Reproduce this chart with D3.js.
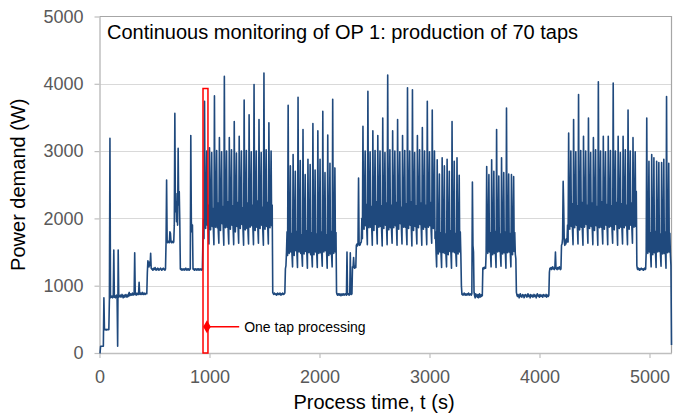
<!DOCTYPE html>
<html><head><meta charset="utf-8">
<script src="https://cdn.jsdelivr.net/npm/d3@7/dist/d3.min.js"></script>
<style>
body{margin:0;background:#fff}
svg{display:block}
text{font-family:"Liberation Sans",Arial,Helvetica,sans-serif}
</style>
</head><body>
<svg id="chart" width="675" height="416"></svg>
<script>
// ---- data: power demand sampled every 5 s, one array per phase ----
const sampleStepS = 5;
const phaseStartS = [0, 940, 1575, 1700, 2155, 2380, 3290, 3515, 3790, 4255, 4885, 4975, 5200];

const startUp = [0,0,100,100,100,100,100,100,
820,350,345,350,340,350,345,350,345,350,
800,3190,820,850,830,845,820,840,1530,830,850,820,840,860,830,100,1530,830,850,
840,860,830,850,870,840,820,850,860,830,845,870,850,830,860,840,880,900,850,870,880,860,870,890,860,880,870,
1490,870,
880,860,890,870,880,870,
1050,880,
870,890,880,870,900,880,870,890,880,870,880,890,880,
1200,1370,1320,1280,1350,1300,1480,1260,
1250,1240,1230,1260,1240,1250,1270,1240,1230,1250,1240,1260,1250,1230,1240,1250,1260,1240,1230,1250,1240,1260,1250,1240,1230,1250,
1640,2570,1650,
1640,1660,1650,1640,1800,1780,1650,1640,1660,1650,1640,1650,
1900,3560,2100,2370,1950,2250,1900,3040,2200,2400,1950,1250,
1240,1250,1230,1240,1250,1240,1230,1250,1240,1260,1240,1230,1250,1240,1250,1230,1240,1250,
3230,1950,1800,1900,1250,
1240,1250,1230,1240,1250,1240,1230,1250,1240,1250,1230,1240,1250,1240,1230,1250,1240];

const batch1 = [1650,1980,1700,
3740,2050,1850,2250,3000,1900,2200,1820,1620,
3050,2100,1830,2280,2980,1880,2150,1850,1610,
3820,2000,1870,2300,3010,1860,2230,1800,1630,
3200,2080,1820,2240,2990,1920,2180,1840,1600,
4110,2030,1860,2310,3000,1870,2250,1810,1620,
3200,2120,1840,2220,3020,1900,2190,1830,1610,
3440,2060,1800,2270,2970,1880,2240,1850,1630,
3220,2000,1850,2300,3000,1910,2160,1820,1600,
3760,2090,1830,2250,3010,1850,2230,1800,1620,
3540,2040,1870,2280,2990,1890,2200,1840,1610,
3990,2110,1820,2230,3000,1870,2260,1830,1630,
3470,2020,1850,2310,2980,1900,2170,1810,1600,
4160,2070,1840,2260,3020,1880,2240,1850,1620,
3420,2050,1860,2290,3000,1890,2200];

const pause1 = [900,880,870,890,880,870,880,860,880,890,870,880,870,890,880,860,880,870,890,880,870,880,890,1250,1300];

const batch2 = [1500,1800,1450,
3680,1700,1480,1820,2780,1500,1780,1460,1280,
2950,1740,1450,1800,2700,1520,1810,1470,1270,
3800,1680,1500,1840,2860,1480,1760,1450,1290,
3320,1720,1470,1790,2650,1510,1820,1480,1260,
2880,1700,1490,1830,2800,1460,1790,1450,1280,
3410,1750,1460,1810,2720,1500,1770,1470,1270,
3300,1690,1480,1850,2880,1490,1800,1460,1290,
3590,1730,1500,1800,2680,1520,1760,1480,1260,
3240,1710,1450,1830,2820,1470,1810,1450,1280,
3770,1720,1480,1820,2750,1500,1790];

const pause2 = [900,
870,860,880,870,860,880,870,850,870,880,860,870,880,860,870,880,870,860,
1500,880,870,880,860,870,1490,880,870,880,
1280,1270,1420,1280,1260,1290,1270,
1600,1620,1590,1610,2600,1620,1600,1610,1640];

const batch3 = [1650,2000,1700,
3370,2080,1840,2260,3000,1890,2210,1820,1610,
3890,2030,1860,2290,2990,1870,2180,1850,1600,
3300,2100,1820,2240,3010,1910,2250,1830,1620,
3230,2050,1870,2310,3000,1880,2190,1810,1590,
3490,2010,1850,2270,2980,1900,2230,1840,1610,
4130,2090,1830,2250,3020,1860,2200,1820,1630,
3300,2060,1860,2300,3000,1890,2240,1850,1600,
3470,2040,1840,2280,2990,1920,2170,1830,1620,
3230,2110,1870,2230,3010,1870,2220,1800,1610,
3940,2000,1850,2290,3000,1900,2250,1840,1590,
3910,2070,1820,2260,2980,1880,2190,1820,1620,
3230,2030,1860,2310,3020,1910,2230,1850,1600,
3350,2090,1840,2250,3000,1870,2200,1830,1610,
3740,2050,1870,2280,2990,1890,2240,1810,1630,
3610,2020,1850,2270,3000,1700,1800,1480,1280,
2870,1700,1470,1810,2660,1500,1790,1460,1270,
2900,1740,1490,1830,2780,1480,1770,1450,1280,
2880,1690,1460,1800,2700,1510,1820,1470,1260,
3440,1720,1500,1840,2850,1490,1780,1460,1290,
2900,1710,1470,1820,2640,1500,1800,1460];

const pause3 = [1000,
870,880,860,870,890,870,860,880,870,860,880,870,890,860,870,880,870,860,
880,2540,1600,1500,900,
850,820,880,840,860,830,870,820,850,880,830,860,840,870,850,
1260,1270,1250,1260,1280,1260];

const batch4 = [1500,
2770,1700,1480,1820,2650,1500,1790,1460,1280,
2870,1730,1460,1800,2700,1480,1810,1470,1270,
3320,1690,1500,1840,2630,1510,1770,1450,1290,
2900,1720,1470,1810,2680,1490,1800,1480,1260,
3640,1710,1490,1830,2660,1500,1780,1460,1280,
2650,1740,1460,1800,2620,1510,1790,1470,1400];

const pause4 = [900,
860,840,870,850,820,860,880,840,850,830,
870,850,860,820,840,870,850,860,830,850,
880,840,860,850,820,870,850,840,860,830,
850,870,840,860,850,820,860,880,850,840,
860,830,870,850,840,860,850,830,870,850,
860,840,850,870,830,860,850,840,860,
1200,
1260,1250,1270,1240,1260,1280,1250,1260,1240,1270,
1500,
1260,1250,1240,1270,1260,1250,1280,1260,1240,1250,
1600,1620,1700,2550,2180,1650,1600,1680,1620,1700,1650];

const batch5 = [1900,1650,
3270,2060,1840,2270,3000,1880,2220,1820,1610,
3470,2090,1860,2250,2990,1900,2190,1840,1620,
3840,2020,1830,2300,3010,1870,2240,1810,1600,
3220,2080,1870,2260,3000,1910,2200,1850,1630,
3490,2040,1850,2290,2980,1880,2230,1830,1610,
3200,2100,1820,2240,3020,1890,2180,1840,1600,
4030,2050,1860,2310,3000,1870,2250,1820,1620,
3220,2070,1840,2270,2990,1900,2210,1850,1610,
3220,2030,1870,2250,3010,1880,2190,1810,1630,
4010,2090,1830,2290,3000,1910,2240,1840,1600,
3220,2060,1850,2260,2980,1870,2220,1830,1620,
3220,2020,1860,2300,3020,1890,2200,1820,1610,
3610,2080,1840,2280,3000,1900,2230,1850,1630,
3200,2050,1870,2250,2990,1880,2400];

const pause5 = [1300,1250,1240,1260,1250,1230,1250,1240,1260,1250,1240,1250,1230,1250,1260,1240,1250,1500];

const batch6 = [
3490,1720,1480,1820,2850,1500,1790,1460,1280,
2950,1700,1460,1800,2900,1490,1810,1470,1270,
2850,1740,1500,1830,2830,1510,1770,1450,1290,
2830,1710,1470,1810,2880,1480,1800,1480,1260,
3810,1730,1490,1840,2820,1500,1780,1460,1300];

const shutDown = [120];

const xTicks = [0, 1000, 2000, 3000, 4000, 5000];
const yTicks = [0, 1000, 2000, 3000, 4000, 5000];
const gridValues = [1000, 2000, 3000, 4000];

const titleText = "Continuous monitoring of OP 1: production of 70 taps";
const xTitle = "Process time, t (s)";
const yTitle = "Power demand (W)";

// annotation (one tap) in data units
const tapBoxTime = [941, 986];
const tapBoxPower = [0, 3930];
const tapMarker = [977, 390];
const tapLeaderEnd = 1270;
const tapNoteText = "One tap processing";

// ---- build the series ----
const phases = [startUp, batch1, pause1, batch2, pause2, batch3, pause3, batch4, pause4, batch5, pause5, batch6, shutDown];
const series = [];
phases.forEach((arr, k) => {
  arr.forEach((v, j) => series.push({t: phaseStartS[k] + j * sampleStepS, p: v}));
});

// ---- drawing ----
const svg = d3.select("#chart");
const x = d3.scaleLinear().domain([0, 5200]).range([99.5, 671.5]);
const y = d3.scaleLinear().domain([0, 5000]).range([353, 16.5]);

const axisCol = "#bfbfbf";
const labCol = "#595959";

// grid
svg.append("g").selectAll("line").data(gridValues).join("line")
  .attr("x1", x(0)).attr("x2", x(5200))
  .attr("y1", d => Math.round(y(d)) + 0.5).attr("y2", d => Math.round(y(d)) + 0.5)
  .attr("stroke", "#d9d9d9").attr("stroke-width", 1.2);

// frame top & right
svg.append("path")
  .attr("d", `M${x(0)},${y(5000)}H${x(5200)}V${y(0)}`)
  .attr("fill", "none").attr("stroke", "#a6a6a6").attr("stroke-width", 1.2);

// axes
const gx = svg.append("g").attr("transform", `translate(0,${y(0)})`)
  .call(d3.axisBottom(x).tickValues(xTicks).tickSize(5).tickSizeOuter(0).tickPadding(12).tickFormat(d3.format("d")));
const gy = svg.append("g").attr("transform", `translate(${x(0)},0)`)
  .call(d3.axisLeft(y).tickValues(yTicks).tickSize(5).tickSizeOuter(0).tickPadding(11).tickFormat(d3.format("d")));
[gx, gy].forEach(g => {
  g.select(".domain").attr("stroke", axisCol).attr("stroke-width", 1.5);
  g.selectAll(".tick line").attr("stroke", axisCol).attr("stroke-width", 1.2);
  g.selectAll(".tick text").attr("fill", labCol).attr("font-size", 18)
    .attr("font-family", "'Liberation Sans', Arial, sans-serif");
});
gx.selectAll(".tick text").attr("dy", "0.71em");

// series
const line = d3.line().x(d => x(d.t)).y(d => y(d.p));
svg.append("path").datum(series)
  .attr("d", line)
  .attr("fill", "none")
  .attr("stroke", "#1f497d")
  .attr("stroke-width", 1.6)
  .attr("stroke-linejoin", "round");

// annotation
svg.append("rect")
  .attr("x", x(tapBoxTime[0])).attr("y", y(tapBoxPower[1]))
  .attr("width", x(tapBoxTime[1]) - x(tapBoxTime[0]))
  .attr("height", y(tapBoxPower[0]) - y(tapBoxPower[1]))
  .attr("fill", "none").attr("stroke", "#ff0000").attr("stroke-width", 1.5);
svg.append("line")
  .attr("x1", x(tapMarker[0])).attr("x2", x(tapLeaderEnd))
  .attr("y1", y(tapMarker[1])).attr("y2", y(tapMarker[1]))
  .attr("stroke", "#ff0000").attr("stroke-width", 1.5);
svg.append("path")
  .attr("d", d3.symbol().type(d3.symbolDiamond).size(50)())
  .attr("transform", `translate(${x(tapMarker[0])},${y(tapMarker[1])})`)
  .attr("fill", "#ff0000");
svg.append("text")
  .attr("x", x(tapLeaderEnd) + 5).attr("y", y(tapMarker[1]) + 5)
  .attr("font-size", 14).attr("fill", "#000").text(tapNoteText);

// titles
svg.append("text").attr("x", 107).attr("y", 39)
  .attr("font-size", 20).attr("fill", "#000").text(titleText);
svg.append("text").attr("x", 374).attr("y", 409)
  .attr("text-anchor", "middle").attr("font-size", 20).attr("fill", "#000").text(xTitle);
svg.append("text")
  .attr("transform", `translate(25,${(y(0) + y(5000)) / 2}) rotate(-90)`)
  .attr("text-anchor", "middle").attr("font-size", 20).attr("fill", "#000").text(yTitle);
</script>
</body></html>
